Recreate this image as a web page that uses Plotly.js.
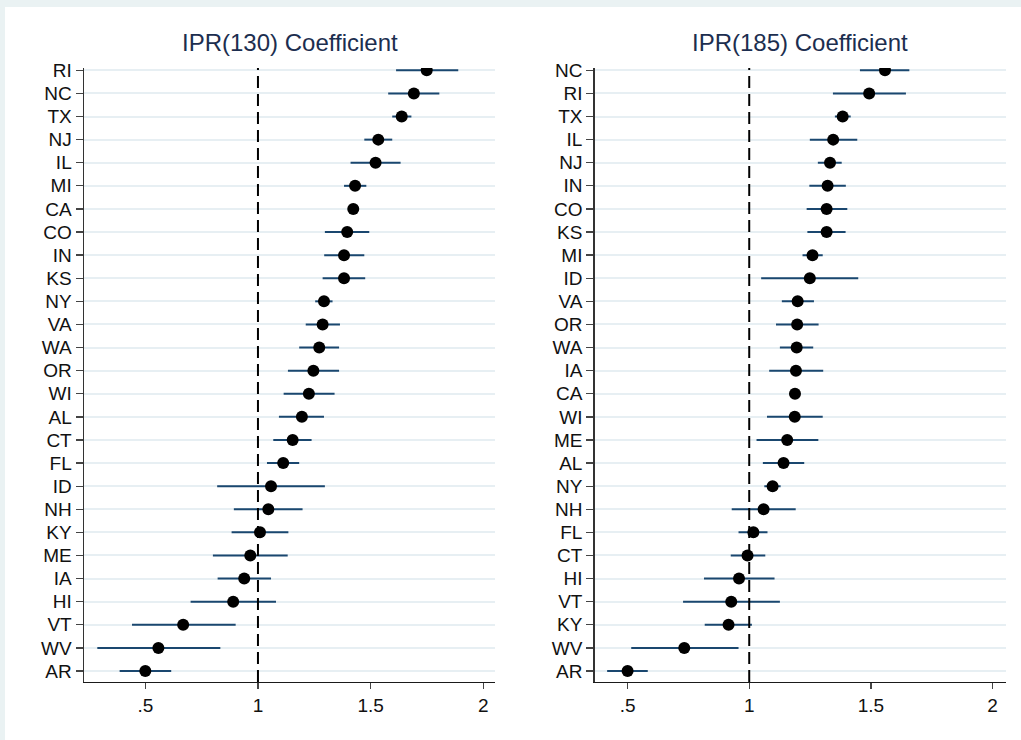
<!DOCTYPE html>
<html>
<head>
<meta charset="utf-8">
<script src="https://cdn.plot.ly/plotly-3.0.1.min.js"></script>
<style>html,body{margin:0;padding:0;background:#EAF2F3;}#chart{width:1021px;height:740px;}</style>
</head>
<body>
<div id="chart"></div>
<script>
// Panel 1: IPR(130)
const states130 = ["RI","NC","TX","NJ","IL","MI","CA","CO","IN","KS","NY","VA","WA","OR","WI","AL","CT","FL","ID","NH","KY","ME","IA","HI","VT","WV","AR"];
const coef130 = [1.749,1.692,1.638,1.534,1.522,1.431,1.423,1.396,1.382,1.382,1.293,1.287,1.272,1.246,1.226,1.195,1.154,1.112,1.058,1.046,1.009,0.966,0.939,0.890,0.668,0.558,0.500];
const lo130 = [1.613,1.578,1.596,1.472,1.411,1.382,1.401,1.297,1.294,1.287,1.254,1.212,1.183,1.133,1.114,1.093,1.068,1.040,0.819,0.893,0.883,0.800,0.821,0.701,0.441,0.287,0.386];
const hi130 = [1.889,1.805,1.681,1.596,1.633,1.481,1.445,1.494,1.472,1.476,1.331,1.364,1.360,1.360,1.340,1.293,1.238,1.183,1.297,1.198,1.135,1.132,1.058,1.080,0.901,0.833,0.615];

// Panel 2: IPR(185)
const states185 = ["NC","RI","TX","IL","NJ","IN","CO","KS","MI","ID","VA","OR","WA","IA","CA","WI","ME","AL","NY","NH","FL","CT","HI","VT","KY","WV","AR"];
const coef185 = [1.558,1.493,1.384,1.345,1.332,1.322,1.318,1.318,1.260,1.249,1.199,1.197,1.195,1.192,1.188,1.187,1.156,1.141,1.096,1.059,1.017,0.993,0.958,0.926,0.915,0.733,0.500];
const lo185 = [1.455,1.344,1.352,1.249,1.282,1.247,1.236,1.239,1.219,1.049,1.134,1.110,1.126,1.082,1.174,1.073,1.030,1.056,1.062,0.928,0.956,0.924,0.814,0.728,0.817,0.515,0.416];
const hi185 = [1.658,1.644,1.417,1.444,1.380,1.397,1.403,1.396,1.302,1.448,1.266,1.285,1.263,1.304,1.201,1.302,1.284,1.226,1.129,1.191,1.075,1.066,1.104,1.126,1.011,0.956,0.583];

const xTickVals = [0.5, 1, 1.5, 2];
const xTickText = [".5", "1", "1.5", "2"];
const titles = ["IPR(130) Coefficient", "IPR(185) Coefficient"];
const refValue = 1;

function mkTrace(states, coef, lo, hi, xa, ya) {
  return {
    type: "scatter", mode: "markers",
    x: coef, y: states, xaxis: xa, yaxis: ya,
    marker: {color: "#000000", size: 12},
    error_x: {
      type: "data", symmetric: false,
      array: coef.map((c, i) => hi[i] - c),
      arrayminus: coef.map((c, i) => c - lo[i]),
      color: "#1A476F", thickness: 2, width: 0
    },
    hoverinfo: "x+y", showlegend: false
  };
}

const traces = [
  mkTrace(states130, coef130, lo130, hi130, "x", "y"),
  mkTrace(states185, coef185, lo185, hi185, "x2", "y2")
];

const fontFam = "Liberation Sans, Arial, sans-serif";
function xAx(domain, range) {
  return {
    domain: domain, range: range, tickvals: xTickVals, ticktext: xTickText,
    showgrid: false, zeroline: false, showline: true, linecolor: "#1a1a1a", linewidth: 1.5,
    ticks: "outside", ticklen: 6, tickwidth: 1.3, tickcolor: "#444",
    tickfont: {family: fontFam, size: 19, color: "#111"}, fixedrange: true
  };
}
function yAx(states, anchor) {
  return {
    domain: [0.0784, 0.9081], type: "category", categoryarray: states,
    range: [26.476, -0.1], anchor: anchor,
    showgrid: true, gridcolor: "#E7EFF3", gridwidth: 2, zeroline: false,
    showline: true, linecolor: "#333", linewidth: 1.5,
    ticks: "outside", ticklen: 7, tickwidth: 1.3, tickcolor: "#444",
    tickfont: {family: fontFam, size: 19, color: "#111"}, fixedrange: true
  };
}

const layout = {
  width: 1021, height: 740,
  margin: {l: 0, r: 0, t: 0, b: 0},
  paper_bgcolor: "#EAF2F3", plot_bgcolor: "#FFFFFF",
  showlegend: false,
  xaxis: Object.assign(xAx([0.0823, 0.4848], [0.228, 2.052]), {anchor: "y"}),
  yaxis: yAx(states130, "x"),
  xaxis2: Object.assign(xAx([0.5825, 0.985], [0.365, 2.054]), {anchor: "y2"}),
  yaxis2: yAx(states185, "x2"),
  shapes: [
    {type: "rect", xref: "paper", yref: "paper", x0: 5/1021, x1: 1, y0: 0, y1: 1 - 7/740,
     fillcolor: "#FFFFFF", line: {width: 0}, layer: "below"},
    {type: "line", xref: "x", yref: "y domain", x0: refValue, x1: refValue, y0: 0, y1: 1,
     line: {color: "#000", width: 2, dash: "12px,6px"}, layer: "above"},
    {type: "line", xref: "x2", yref: "y2 domain", x0: refValue, x1: refValue, y0: 0, y1: 1,
     line: {color: "#000", width: 2, dash: "12px,6px"}, layer: "above"}
  ],
  annotations: [
    {text: titles[0], xref: "x domain", yref: "paper", x: 0.5, y: 1 - 43/740,
     xanchor: "center", yanchor: "middle", showarrow: false,
     font: {family: fontFam, size: 24, color: "#1C2E4F"}},
    {text: titles[1], xref: "x2 domain", yref: "paper", x: 0.5, y: 1 - 43/740,
     xanchor: "center", yanchor: "middle", showarrow: false,
     font: {family: fontFam, size: 24, color: "#1C2E4F"}}
  ]
};

Plotly.newPlot("chart", traces, layout, {displayModeBar: false, staticPlot: true});
</script>
</body>
</html>
